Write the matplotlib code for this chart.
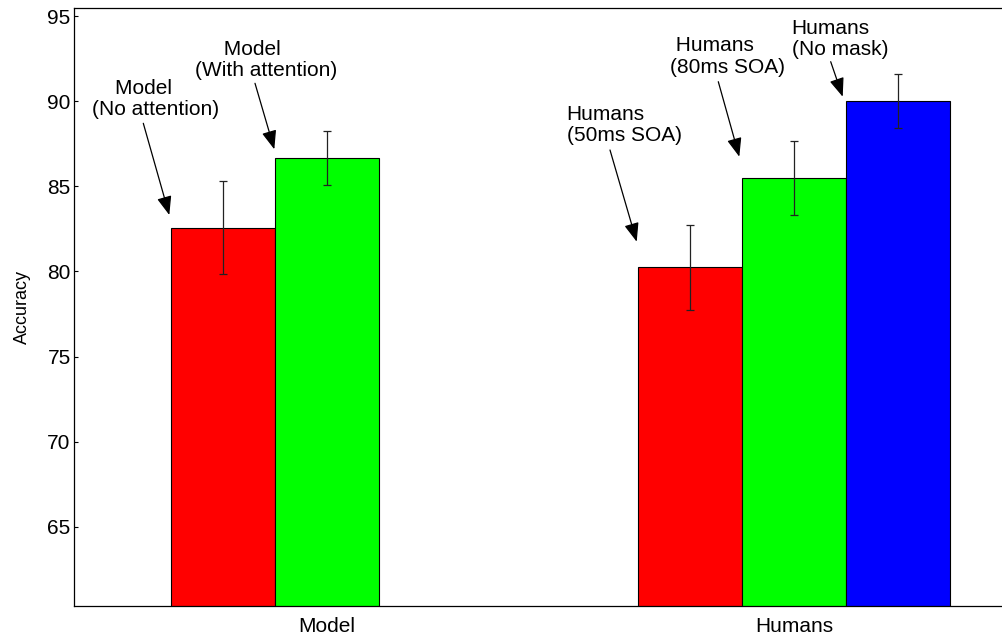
import numpy as np
import matplotlib
matplotlib.use("Agg")
import matplotlib.pyplot as plt
from matplotlib.patches import FancyArrowPatch

plt.rcParams['font.family'] = ['Liberation Sans', 'DejaVu Sans']

# ---- data ----
categories = ['Model', 'Humans']
series_names = ['No attention / 50ms SOA', 'With attention / 80ms SOA', 'No mask']
values_low = [82.58, 80.25]      # red
values_mid = [86.65, 85.50]      # green
values_high = [np.nan, 90.00]    # blue
err_low = [2.75, 2.50]
err_mid = [1.60, 2.17]
err_high = [np.nan, 1.60]
bar_colors = ['#ff0000', '#00ff00', '#0000ff']
yticks = [65, 70, 75, 80, 85, 90, 95]

annotations = [
    ('    Model\n(No attention)', (91.7, 99.2), (143.3, 123.3), (169.3, 215.0)),
    ('     Model\n(With attention)', (195.0, 60.0), (255.0, 83.3), (274.3, 149.3)),
    ('Humans\n(50ms SOA)', (566.7, 125.0), (610.0, 150.0), (636.7, 241.7)),
    (' Humans\n(80ms SOA)', (670.0, 56.5), (718.3, 81.7), (739.3, 156.7)),
    ('Humans\n(No mask)', (791.7, 39.2), (830.7, 61.7), (842.7, 96.7)),
]

W, H = 1002, 637
fig = plt.figure(figsize=(W / 100, H / 100), dpi=100)
ax = fig.add_axes([73.5 / W, 1 - 606 / H, 1 - 73.5 / W, (606 - 7.5) / H])

x = np.arange(1, len(categories) + 1)
bw = 0.2228
all_vals = [values_low, values_mid, values_high]
all_errs = [err_low, err_mid, err_high]
for i, (vals, errs, col) in enumerate(zip(all_vals, all_errs, bar_colors)):
    pos = x + (i - 1) * bw
    ax.bar(pos, vals, width=bw, color=col, edgecolor='black', linewidth=0.8, zorder=2)
    ax.errorbar(pos, vals, yerr=errs, fmt='none', ecolor='#222222', elinewidth=0.9,
                capsize=3.2, capthick=0.9, zorder=3)

ax.set_xlim(0.4572, 2.4454)
ax.set_ylim(60.355, 95.5)
ax.set_xticks(x)
ax.set_xticklabels(categories, fontsize=15)
ax.set_yticks(yticks)
ax.set_yticklabels([str(t) for t in yticks], fontsize=15)
ax.tick_params(axis='y', direction='in', length=3, pad=2, width=0.8)
ax.tick_params(axis='x', direction='in', length=0, pad=8)
ax.set_ylabel('Accuracy', fontsize=13, labelpad=12)
ax.spines['right'].set_visible(False)
for s in ['left', 'top', 'bottom']:
    ax.spines[s].set_linewidth(0.9)
    ax.spines[s].set_color('black')

# annotations in figure pixel coordinates (image y from top)
def fp(px, py):
    return (px, H - py)

for txt, tpos, tail, tip in annotations:
    fig.text(tpos[0] / W, 1 - tpos[1] / H, txt, ha='left', va='center',
             fontsize=15, linespacing=1.15, multialignment='left')
    arr = FancyArrowPatch(fp(*tail), fp(*tip), transform=None,
                          arrowstyle='-|>,head_length=1.15,head_width=0.45',
                          mutation_scale=10, color='black', linewidth=0.9,
                          shrinkA=0, shrinkB=0)
    fig.patches.append(arr)

fig.savefig('out.png', dpi=100)
